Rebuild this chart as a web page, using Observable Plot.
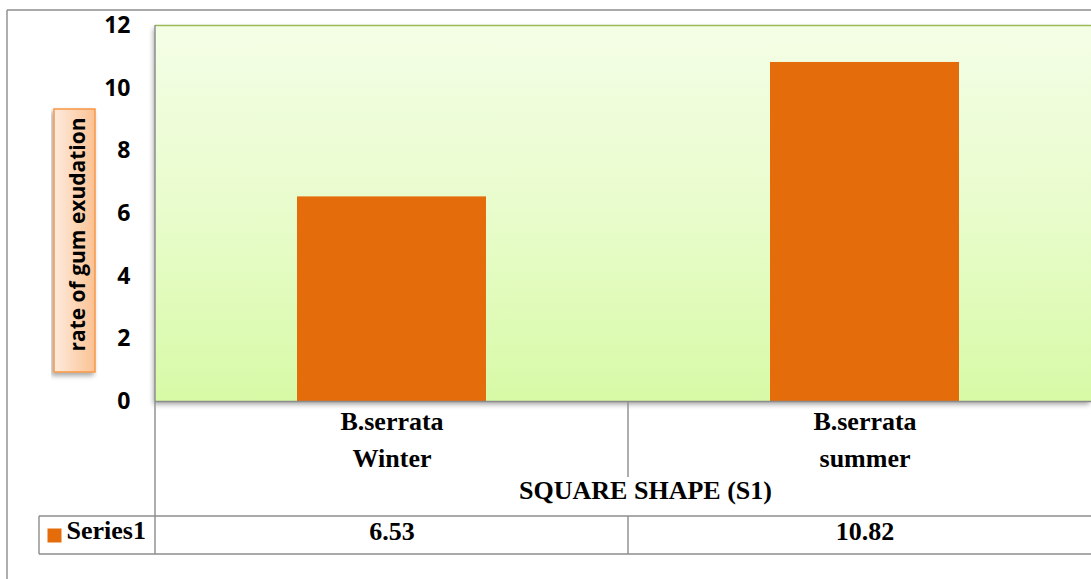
<!DOCTYPE html>
<html>
<head>
<meta charset="utf-8">
<script src="https://cdn.jsdelivr.net/npm/d3@7"></script>
<script src="https://cdn.jsdelivr.net/npm/@observablehq/plot@0.6"></script>
<style>
  html, body { margin: 0; padding: 0; background: #fff; overflow: hidden; }
  #chart { width: 1091px; height: 579px; }
</style>
</head>
<body>
<div id="chart"></div>
<script>
// Gum exudation rate, square-shape (S1) tapping, by season
const categories = ["B.serrata\nWinter", "B.serrata\nsummer"];
const values = [6.53, 10.82];
const seriesName = "Series1";
const groupLabel = "SQUARE SHAPE (S1)";
const yTicks = [0, 2, 4, 6, 8, 10, 12];
const yLabel = "rate of gum exudation";

const barColor = "#E46C0A";
const gridColor = "#8C8C8C";
const sans = "'Open Sans', 'DejaVu Sans', sans-serif";
const serif = "'Liberation Serif', 'DejaVu Serif', serif";

const data = categories.map((c, i) => ({category: c, value: values[i]}));

const tableText = {fontSize: 26, fontWeight: "bold", fontFamily: serif, fill: "#000"};

const chart = Plot.plot({
  width: 1091,
  height: 579,
  marginTop: 25,
  marginBottom: 178,
  marginLeft: 155,
  marginRight: 0,
  style: {fontFamily: sans, color: "#000", background: "transparent", overflow: "hidden"},
  x: {type: "band", domain: categories, range: [155, 1101], paddingInner: 0.6, paddingOuter: 0.3, axis: null},
  y: {domain: [0, 12], axis: null},
  marks: [
    // plot-area background
    Plot.frame({fill: "url(#plotBg)", stroke: "none"}),
    Plot.ruleY([12], {stroke: "#9BBB59", strokeWidth: 1.6}),
    Plot.barY(data, {x: "category", y: "value", fill: barColor}),
    Plot.ruleY([0], {stroke: gridColor, strokeWidth: 1.4}),
    Plot.axisY({ticks: yTicks, tickSize: 0, tickPadding: 25, label: null,
                fontSize: 23, fontWeight: "bold", fontFamily: sans}),
    // rotated axis title
    Plot.text([yLabel], {frameAnchor: "left", textAnchor: "middle", rotate: -90, dx: -77, dy: 21,
                fontSize: 21, fontWeight: "bold", fontFamily: sans, fill: "#000"}),
    // data table: category names
    Plot.text(data, {x: "category", text: "category", frameAnchor: "bottom", lineAnchor: "top",
                dy: 3, lineHeight: 1.4, ...tableText}),
    // data table: group label
    Plot.text([groupLabel], {frameAnchor: "bottom", dx: 22, dy: 97, ...tableText}),
    // data table: series row
    Plot.text(data, {x: "category", text: d => d.value.toFixed(2), frameAnchor: "bottom", dy: 138, ...tableText}),
    Plot.text([seriesName], {frameAnchor: "bottom-left", textAnchor: "start", dx: -89, dy: 137, ...tableText}),
    Plot.dot([seriesName], {frameAnchor: "bottom-left", symbol: "square", r: 7.9, dx: -101, dy: 134,
                fill: barColor, stroke: "none"})
  ]
});

document.getElementById("chart").appendChild(chart);

const svg = d3.select(chart);
const defs = svg.insert("defs", ":first-child");

const bg = defs.append("linearGradient").attr("id", "plotBg")
  .attr("x1", 0).attr("y1", 0).attr("x2", 0).attr("y2", 1);
bg.append("stop").attr("offset", "0%").attr("stop-color", "#F4FEE6");
bg.append("stop").attr("offset", "50%").attr("stop-color", "#E8FCCB");
bg.append("stop").attr("offset", "100%").attr("stop-color", "#D7FAA6");

const boxFill = defs.append("linearGradient").attr("id", "labelBox")
  .attr("x1", 0).attr("y1", 0).attr("x2", 1).attr("y2", 0);
boxFill.append("stop").attr("offset", "0%").attr("stop-color", "#FDEBDD");
boxFill.append("stop").attr("offset", "100%").attr("stop-color", "#FBC293");

const shadow = defs.append("filter").attr("id", "softShadow")
  .attr("x", "-5%").attr("y", "-5%").attr("width", "110%").attr("height", "115%");
shadow.append("feDropShadow").attr("dx", -2).attr("dy", 3).attr("stdDeviation", 2.5)
  .attr("flood-color", "#000").attr("flood-opacity", 0.35);

svg.select("[aria-label=frame]").attr("filter", "url(#softShadow)");

// cell boundaries of the data table, taken from the band scale
const xs = chart.scale("x");
const gap = (xs.step - xs.bandwidth) / 2;
const bounds = [xs.apply(categories[0]) - gap, ...categories.map(c => xs.apply(c) + xs.bandwidth + gap)];
const yZero = chart.scale("y").apply(0);
const yTop = chart.scale("y").apply(12);

const rowTop = 516, rowBottom = 554, groupTop = 477, legendLeft = 39;

// box behind the axis title, inserted below the title text
const titleNode = svg.selectAll("[aria-label=text]").nodes()[0];
const box = svg.insert("g", () => titleNode);
box.append("rect").attr("x", 54).attr("y", 109).attr("width", 41).attr("height", 263)
  .attr("fill", "url(#labelBox)").attr("stroke", "#F79646").attr("stroke-width", 1.5)
  .attr("filter", "url(#softShadow)");

const grid = svg.append("g").attr("stroke", gridColor).attr("stroke-width", 1.4).attr("fill", "none");
const line = (x1, y1, x2, y2) => grid.append("line").attr("x1", x1).attr("y1", y1).attr("x2", x2).attr("y2", y2);

// outer chart border
line(7, 10, 1100, 10);
line(7, 10, 7, 600);
// plot-area left edge continuing down the table
line(bounds[0], yTop, bounds[0], rowBottom);
// divider between categories
line(bounds[1], yZero, bounds[1], groupTop);
line(bounds[1], rowTop, bounds[1], rowBottom);
// series row
line(legendLeft, rowTop, bounds[2], rowTop);
line(legendLeft, rowBottom, bounds[2], rowBottom);
line(legendLeft, rowTop, legendLeft, rowBottom);
</script>
</body>
</html>
